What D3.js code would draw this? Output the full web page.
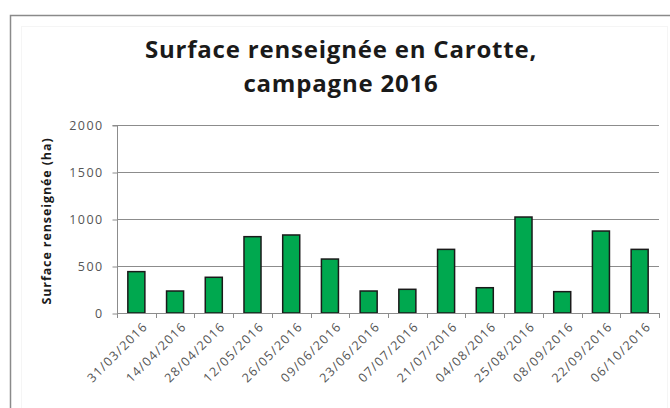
<!DOCTYPE html>
<html><head><meta charset="utf-8">
<script src="https://cdn.jsdelivr.net/npm/d3@7"></script>
<style>body{margin:0;background:#fff;} svg{display:block;}</style>
</head><body>
<svg id="c" width="670" height="408"></svg>
<script>
const categories = ["31/03/2016","14/04/2016","28/04/2016","12/05/2016","26/05/2016","09/06/2016","23/06/2016","07/07/2016","21/07/2016","04/08/2016","25/08/2016","08/09/2016","22/09/2016","06/10/2016"];
const values = [440, 234, 380, 812, 830, 574, 234, 252, 677, 269, 1021, 227, 872, 677];
const yTicks = [0, 500, 1000, 1500, 2000];
const titleLines = ["Surface renseignée en Carotte,", "campagne 2016"];
const yTitle = "Surface renseignée (ha)";

const svg = d3.select("#c");
const font = "'Open Sans', sans-serif";

// outer frame
svg.append("rect").attr("x",10.5).attr("y",15.5).attr("width",700).attr("height",420)
  .attr("fill","#fff").attr("stroke","#8a8a8a").attr("stroke-width",1.5);
svg.append("rect").attr("x",21.5).attr("y",26.5).attr("width",646).attr("height",400)
  .attr("fill","none").attr("stroke","#f5f5f5").attr("stroke-width",1);

const m = {left:117, right:659, top:125, bottom:313};
const x = d3.scaleBand().domain(categories).range([m.left, m.right]).paddingInner(0.56).paddingOuter(0.28);
const y = d3.scaleLinear().domain([0, 2000]).range([m.bottom, m.top]);

// gridlines
svg.append("g").selectAll("line").data(yTicks.filter(d=>d>0)).join("line")
  .attr("x1", m.left).attr("x2", m.right)
  .attr("y1", d=>Math.round(y(d))+0.5).attr("y2", d=>Math.round(y(d))+0.5)
  .attr("stroke","#8c8c8c").attr("stroke-width",1);

// y axis
const yAxis = d3.axisLeft(y).tickValues(yTicks).tickSize(5).tickPadding(9).tickFormat(d3.format("d"));
const gy = svg.append("g").attr("transform",`translate(${m.left+0.5},0.5)`).call(yAxis);
gy.select(".domain").attr("stroke","#8c8c8c").attr("d", `M-5,${y(2000)}H0V${y(0)}`);
gy.selectAll(".tick line").attr("stroke","#8c8c8c");
gy.selectAll(".tick text").attr("fill","#555").style("font-family",font).style("font-size","12.5px")
  .style("letter-spacing","1.4px");

// bars
svg.append("g").selectAll("rect").data(values).join("rect")
  .attr("x",(d,i)=>x(categories[i]))
  .attr("y",d=>y(d))
  .attr("width",x.bandwidth())
  .attr("height",d=>y(0)-y(d))
  .attr("fill","#00a84f").attr("stroke","#1a1a1a").attr("stroke-width",1.5);

// x axis
const boundaries = d3.range(categories.length+1).map(i=>m.left + i*(m.right-m.left)/categories.length);
const gx = svg.append("g");
gx.append("line").attr("x1",m.left).attr("x2",m.right).attr("y1",m.bottom+0.5).attr("y2",m.bottom+0.5)
  .attr("stroke","#8c8c8c");
gx.selectAll("line.t").data(boundaries).join("line").attr("class","t")
  .attr("x1",d=>Math.round(d)+0.5).attr("x2",d=>Math.round(d)+0.5)
  .attr("y1",m.bottom).attr("y2",m.bottom+5).attr("stroke","#8c8c8c");
gx.selectAll("text").data(categories).join("text")
  .attr("transform",d=>`translate(${x(d)+x.bandwidth()/2+6},${m.bottom+8}) rotate(-45)`)
  .attr("text-anchor","end").attr("dy","0.7em")
  .attr("fill","#555").style("font-family",font).style("font-size","12.5px")
  .style("letter-spacing","1.3px")
  .text(d=>d);

// title
svg.append("g").selectAll("text").data(titleLines).join("text")
  .attr("x",341).attr("y",(d,i)=>58+i*34)
  .attr("text-anchor","middle")
  .attr("fill","#1a1a1a").style("font-family",font).style("font-weight","bold").style("font-size","24px")
  .style("letter-spacing","0.8px")
  .text(d=>d);

// y title
svg.append("text").attr("transform",`translate(51,221) rotate(-90)`)
  .attr("text-anchor","middle").attr("fill","#1a1a1a")
  .style("font-family",font).style("font-weight","bold").style("font-size","12.5px")
  .style("letter-spacing","0.9px")
  .text(yTitle);
</script>
</body></html>
